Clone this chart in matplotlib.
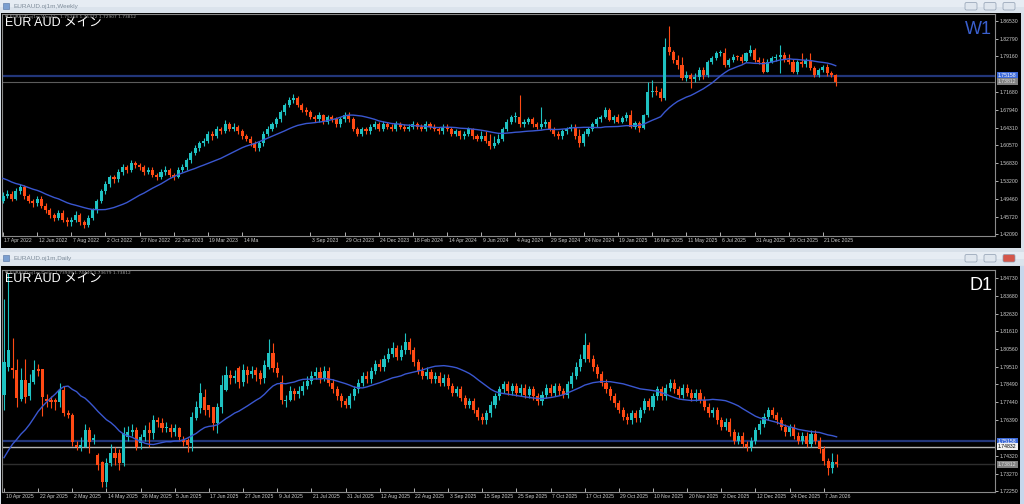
import numpy as np
import pandas as pd
import matplotlib
matplotlib.use("Agg")
import matplotlib.pyplot as plt
from matplotlib.patches import Rectangle, FancyBboxPatch
import matplotlib.transforms as mtransforms

W, H = 1024, 504
plt.rcParams['font.family'] = ['DejaVu Sans', 'Noto Sans CJK JP']

# ---------------- weekly data (price x 1e4), open = previous close ----------------
w_pre_close = [15700, 15800, 15750, 15650, 15600, 15550, 15500, 15450, 15500, 15550,
               15350, 15250, 15200, 15300, 15250, 15100, 15050, 14950, 14900]
w_first_open = 14900
w_close = [15000, 15050, 14950, 15100, 15200, 15000, 14900, 14850,
           14950, 14800, 14700, 14600, 14550, 14650, 14500, 14450,
           14500, 14600, 14450, 14400, 14550, 14700, 14900, 15100,
           15250, 15400, 15350, 15500, 15600, 15550, 15700, 15650,
           15600, 15500, 15550, 15450, 15400, 15500, 15550, 15450,
           15400, 15550, 15600, 15750, 15900, 16000, 16100, 16150,
           16300, 16250, 16400, 16350, 16500, 16400, 16450, 16350,
           16250, 16200, 16100, 16000, 16100, 16300, 16400, 16500,
           16600, 16750, 16900, 17000, 17050, 16900, 16800, 16750,
           16650, 16600, 16700, 16550, 16650, 16600, 16500, 16600,
           16700, 16600, 16400, 16300, 16400, 16350, 16450, 16500,
           16400, 16500, 16450, 16400, 16500, 16450, 16400, 16450,
           16500, 16450, 16400, 16500, 16450, 16400, 16350, 16450,
           16400, 16300, 16350, 16250, 16300, 16400, 16250, 16200,
           16250, 16150, 16050, 16100, 16200, 16400, 16550, 16650,
           16650, 16500, 16550, 16600, 16500, 16450, 16500, 16550,
           16400, 16300, 16250, 16350, 16400, 16450, 16250, 16100,
           16300, 16400, 16500, 16600, 16650, 16797, 16589, 16659,
           16554, 16624, 16693, 16450, 16519, 16415, 16693, 17180,
           17200, 17170, 17041, 18118, 18014, 17840, 17736, 17470,
           17530, 17440, 17492, 17632, 17527, 17805, 17875, 17979,
           17990, 17736, 17840, 17910, 17896, 17826, 17979, 18049,
           17840, 17800, 17597, 17805, 17875, 17910, 17944, 17840,
           17805, 17597, 17805, 17757, 17840, 17666, 17527, 17632,
           17693, 17560, 17527, 17381]
w_high = [15080, 15120, 15100, 15160, 15260, 15230, 15050, 14950,
          15000, 15000, 14850, 14750, 14650, 14700, 14700, 14560,
          14560, 14680, 14640, 14500, 14600, 14750, 14950, 15150,
          15320, 15450, 15450, 15560, 15660, 15650, 15760, 15740,
          15700, 15650, 15600, 15600, 15480, 15560, 15620, 15580,
          15480, 15600, 15660, 15800, 15950, 16060, 16160, 16220,
          16360, 16350, 16460, 16450, 16580, 16550, 16520, 16480,
          16400, 16300, 16250, 16150, 16150, 16350, 16460, 16550,
          16650, 16800, 16950, 17060, 17120, 17080, 16950, 16850,
          16800, 16700, 16760, 16720, 16700, 16700, 16650, 16650,
          16760, 16750, 16650, 16450, 16450, 16450, 16500, 16560,
          16550, 16560, 16550, 16500, 16560, 16550, 16500, 16500,
          16560, 16550, 16500, 16560, 16550, 16500, 16450, 16500,
          16500, 16450, 16400, 16380, 16350, 16450, 16420, 16300,
          16350, 16350, 16300, 16250, 16300, 16450, 16600, 16700,
          16750, 17100, 16600, 16650, 16650, 16550, 16850, 16600,
          16600, 16450, 16350, 16400, 16450, 16500, 16500, 16400,
          16350, 16450, 16550, 16650, 16700, 16850, 16830, 16700,
          16720, 16680, 16760, 16797, 16560, 16560, 16720, 17388,
          17423, 17300, 17260, 18292, 18549, 18050, 17950, 17900,
          17600, 17560, 17560, 17700, 17700, 17840, 17930, 18020,
          18050, 18083, 17880, 17960, 17950, 17960, 18010, 18153,
          18100, 17900, 17880, 17850, 17920, 17960, 18153, 18000,
          17960, 17850, 17840, 17979, 17880, 17979, 17720, 17680,
          17740, 17760, 17600, 17537]
w_low = [14850, 14960, 14900, 14920, 15050, 14950, 14850, 14780,
         14800, 14750, 14650, 14550, 14480, 14500, 14450, 14380,
         14380, 14450, 14400, 14330, 14360, 14500, 14650, 14850,
         15050, 15200, 15280, 15300, 15450, 15480, 15500, 15580,
         15540, 15450, 15460, 15400, 15330, 15350, 15450, 15400,
         15330, 15380, 15500, 15550, 15700, 15850, 15950, 16050,
         16100, 16180, 16220, 16300, 16320, 16350, 16360, 16300,
         16200, 16150, 16050, 15950, 15950, 16050, 16250, 16350,
         16450, 16550, 16700, 16850, 16950, 16850, 16750, 16700,
         16600, 16550, 16550, 16500, 16500, 16550, 16450, 16450,
         16550, 16550, 16350, 16250, 16250, 16300, 16300, 16400,
         16350, 16350, 16400, 16350, 16350, 16400, 16350, 16350,
         16400, 16400, 16350, 16350, 16400, 16350, 16300, 16300,
         16350, 16250, 16250, 16200, 16200, 16250, 16200, 16150,
         16150, 16100, 15980, 16000, 16080, 16150, 16350, 16500,
         16550, 16450, 16450, 16500, 16450, 16400, 16400, 16450,
         16350, 16250, 16200, 16200, 16300, 16350, 16200, 16030,
         16050, 16250, 16350, 16450, 16550, 16620, 16560, 16520,
         16520, 16520, 16560, 16420, 16400, 16346, 16400, 16650,
         17075, 17100, 16980, 17000, 17950, 17780, 17650, 17420,
         17400, 17249, 17380, 17420, 17450, 17480, 17750, 17840,
         17930, 17700, 17700, 17800, 17840, 17780, 17790, 17930,
         17800, 17760, 17560, 17580, 17780, 17820, 17562, 17800,
         17760, 17560, 17540, 17700, 17700, 17640, 17480, 17480,
         17580, 17500, 17480, 17291]
w_open = [w_first_open] + w_close[:-1]

w_tick_pos = [0, 8, 16, 24, 32, 40, 48, 56, 72, 80, 88, 96, 104, 112, 120,
              128, 136, 144, 152, 160, 168, 176, 184, 192]
w_tick_lab = ['17 Apr 2022', '12 Jun 2022', '7 Aug 2022', '2 Oct 2022', '27 Nov 2022',
              '22 Jan 2023', '19 Mar 2023', '14 Ma', '3 Sep 2023', '29 Oct 2023',
              '24 Dec 2023', '18 Feb 2024', '14 Apr 2024', '9 Jun 2024', '4 Aug 2024',
              '29 Sep 2024', '24 Nov 2024', '19 Jan 2025', '16 Mar 2025', '11 May 2025',
              '6 Jul 2025', '31 Aug 2025', '26 Oct 2025', '21 Dec 2025']
w_price_ticks = [1.86530, 1.82790, 1.79160, 1.71680, 1.67940, 1.64310, 1.60570,
                 1.56830, 1.53200, 1.49460, 1.45720, 1.42090]

# ---------------- daily data (price x 1e4) ----------------
d_pre_close = [17220, 17180, 17200, 17250, 17280, 17220, 17190, 17160, 17190, 17230,
               17270, 17300, 17280, 17350, 17600, 17900, 17750, 18000, 17850]
d_open = [17787, 17951, 17946, 17934, 17764, 17875, 17782, 17864, 17940, 17940,
          17764, 17758, 17758, 17746, 17817, 17682, 17670, 17494, 17483, 17483,
          17582, 17524, 17436, 17395, 17278, 17389, 17448, 17448, 17389, 17541,
          17571, 17582, 17506, 17541, 17582, 17565, 17641, 17623, 17594, 17594,
          17571, 17594, 17524, 17524, 17506, 17653, 17711, 17776, 17729, 17717,
          17623, 17717, 17817, 17905, 17887, 17946, 17864, 17934, 17910, 17934,
          17916, 17887, 17951, 18034, 17946, 17864, 17752, 17758, 17811,
          17793, 17810, 17840, 17870, 17900, 17920, 17890, 17930, 17860, 17820,
          17780, 17750, 17730, 17780, 17820, 17860, 17900, 17880, 17930, 17970,
          17950, 18000, 18030, 18060, 18010, 18050, 18100, 18050, 17980, 17930,
          17900, 17920, 17880, 17900, 17860, 17890, 17840, 17800, 17820, 17770,
          17730, 17750, 17700, 17660, 17640, 17680, 17730, 17780, 17820, 17850,
          17810, 17840, 17800, 17830, 17790, 17820, 17780, 17750, 17790, 17830,
          17800, 17840, 17810, 17790, 17850, 17900, 17950, 18000, 18080, 18000,
          17950, 17910, 17860, 17820, 17780, 17740, 17700, 17660, 17640, 17680,
          17650, 17700, 17750, 17720, 17780, 17820, 17780, 17830, 17860, 17820,
          17790, 17830, 17800, 17770, 17800, 17760, 17720, 17680, 17700, 17640,
          17600, 17630, 17570, 17520, 17550, 17500, 17480, 17520, 17580, 17620,
          17660, 17700, 17670, 17640, 17600, 17570, 17600, 17550, 17520, 17550,
          17500, 17560, 17520, 17470, 17400, 17360, 17394]
d_close = [17981, 18051, 17934, 17770, 17875, 17776, 17858, 17934, 17928, 17776,
           17752, 17746, 17746, 17817, 17682, 17670, 17512, 17483, 17494, 17582,
           17512, 17535, 17377, 17278, 17389, 17448, 17418, 17389, 17565, 17571,
           17582, 17483, 17541, 17582, 17565, 17641, 17629, 17594, 17600, 17571,
           17594, 17541, 17512, 17494, 17658, 17717, 17799, 17700, 17700, 17623,
           17717, 17846, 17905, 17887, 17899, 17864, 17934, 17905, 17928, 17905,
           17881, 17963, 18034, 17946, 17916, 17758, 17758, 17811, 17793,
           17810, 17840, 17870, 17900, 17920, 17890, 17930, 17860, 17820, 17780,
           17750, 17730, 17780, 17820, 17860, 17900, 17880, 17930, 17970, 17950,
           18000, 18030, 18060, 18010, 18050, 18100, 18050, 17980, 17930, 17900,
           17920, 17880, 17900, 17860, 17890, 17840, 17800, 17820, 17770, 17730,
           17750, 17700, 17660, 17640, 17680, 17730, 17780, 17820, 17850, 17810,
           17840, 17800, 17830, 17790, 17820, 17780, 17750, 17790, 17830, 17800,
           17840, 17810, 17790, 17850, 17900, 17950, 18000, 18080, 18000, 17950,
           17910, 17860, 17820, 17780, 17740, 17700, 17660, 17640, 17680, 17650,
           17700, 17750, 17720, 17780, 17820, 17780, 17830, 17860, 17820, 17790,
           17830, 17800, 17770, 17800, 17760, 17720, 17680, 17700, 17640, 17600,
           17630, 17570, 17520, 17550, 17500, 17480, 17520, 17580, 17620, 17660,
           17700, 17670, 17640, 17600, 17570, 17600, 17550, 17520, 17550, 17500,
           17560, 17520, 17470, 17400, 17360, 17395, 17381]
d_high = [18350, 18500, 18120, 18000, 17946, 18000, 17910, 17992, 17970, 17940,
          17795, 17780, 17770, 17860, 17840, 17700, 17680, 17515, 17540, 17620,
          17600, 17560, 17450, 17400, 17420, 17500, 17480, 17470, 17600, 17605,
          17620, 17600, 17560, 17610, 17630, 17670, 17660, 17650, 17630, 17620,
          17620, 17600, 17550, 17535, 17690, 17750, 17860, 17825, 17730, 17710,
          17740, 17905, 17960, 17935, 17935, 17960, 17970, 17960, 17955, 17950,
          17935, 17990, 18115, 18092, 17980, 17905, 17790, 17840, 17830,
          17840, 17870, 17900, 17930, 17950, 17950, 17960, 17950, 17880, 17840,
          17800, 17770, 17800, 17840, 17880, 17920, 17930, 17950, 17990, 18000,
          18020, 18060, 18100, 18080, 18080, 18150, 18120, 18070, 18000, 17950,
          17950, 17940, 17920, 17920, 17910, 17910, 17860, 17840, 17840, 17790,
          17770, 17770, 17720, 17680, 17700, 17750, 17800, 17840, 17870, 17870,
          17860, 17860, 17850, 17850, 17840, 17840, 17800, 17810, 17850, 17850,
          17860, 17860, 17830, 17870, 17920, 17980, 18030, 18150, 18100, 18020,
          17970, 17930, 17880, 17840, 17800, 17760, 17720, 17680, 17700, 17700,
          17720, 17770, 17770, 17800, 17840, 17840, 17850, 17880, 17880, 17840,
          17850, 17850, 17820, 17820, 17820, 17780, 17740, 17720, 17720, 17660,
          17650, 17650, 17590, 17570, 17570, 17520, 17540, 17600, 17640, 17680,
          17720, 17720, 17690, 17660, 17620, 17620, 17620, 17570, 17570, 17570,
          17580, 17580, 17540, 17490, 17420, 17450, 17444]
d_low = [17700, 17930, 17890, 17720, 17750, 17740, 17760, 17850, 17900, 17665,
         17720, 17710, 17700, 17720, 17665, 17650, 17490, 17465, 17460, 17480,
         17448, 17500, 17350, 17248, 17248, 17370, 17380, 17350, 17370, 17520,
         17550, 17465, 17470, 17520, 17480, 17530, 17600, 17570, 17570, 17540,
         17550, 17520, 17490, 17455, 17460, 17640, 17680, 17670, 17660, 17580,
         17565, 17680, 17810, 17850, 17860, 17830, 17840, 17860, 17890, 17870,
         17850, 17855, 17940, 17920, 17895, 17735, 17720, 17755, 17760,
         17770, 17790, 17820, 17850, 17880, 17860, 17870, 17840, 17800, 17760,
         17720, 17710, 17710, 17760, 17800, 17840, 17860, 17860, 17910, 17930,
         17930, 17980, 18010, 17990, 17990, 18030, 18030, 17960, 17910, 17880,
         17880, 17860, 17860, 17840, 17840, 17820, 17780, 17780, 17750, 17710,
         17710, 17680, 17640, 17620, 17620, 17660, 17710, 17760, 17800, 17790,
         17790, 17780, 17780, 17770, 17770, 17760, 17730, 17730, 17770, 17780,
         17780, 17790, 17770, 17770, 17830, 17880, 17930, 17980, 17980, 17930,
         17890, 17840, 17800, 17760, 17720, 17680, 17640, 17620, 17620, 17630,
         17630, 17680, 17700, 17700, 17760, 17760, 17760, 17810, 17800, 17770,
         17770, 17780, 17750, 17750, 17740, 17700, 17660, 17660, 17620, 17580,
         17580, 17550, 17500, 17500, 17480, 17460, 17460, 17500, 17560, 17600,
         17640, 17650, 17620, 17580, 17550, 17550, 17530, 17500, 17500, 17480,
         17480, 17500, 17450, 17380, 17320, 17330, 17368]

d_tick_lab = ['10 Apr 2025', '22 Apr 2025', '2 May 2025', '14 May 2025', '26 May 2025',
              '5 Jun 2025', '17 Jun 2025', '27 Jun 2025', '9 Jul 2025', '21 Jul 2025',
              '31 Jul 2025', '12 Aug 2025', '22 Aug 2025', '3 Sep 2025', '15 Sep 2025',
              '25 Sep 2025', '7 Oct 2025', '17 Oct 2025', '29 Oct 2025', '10 Nov 2025',
              '20 Nov 2025', '2 Dec 2025', '12 Dec 2025', '24 Dec 2025', '7 Jan 2026']
d_tick_pos = [8 * k for k in range(len(d_tick_lab))]
d_price_ticks = [1.84730, 1.83680, 1.82630, 1.81610, 1.80560, 1.79510, 1.78490,
                 1.77440, 1.76390, 1.74320, 1.73270, 1.72250]

blue_level = 1.75158
bid_level = 1.73812
ask_level = 1.74832

BULL = '#1fc2c2'
BEAR = '#ff4a14'
MA_COL = '#3a57d0'
FRAME = '#d8e0e9'
TICK_FONT = ['Liberation Sans', 'DejaVu Sans']


def sc(v):
    return np.asarray(v, dtype=float) / 10000.0


def draw_candles(ax, o, h, l, c, px_per_unit):
    o, h, l, c = sc(o), sc(h), sc(l), sc(c)
    x = np.arange(len(c))
    up = c >= o
    cols = np.where(up, BULL, BEAR)
    ax.vlines(x, l, h, colors=cols, lw=0.8, zorder=3)
    bh = np.maximum(np.abs(c - o), 1.0 / px_per_unit)
    ax.bar(x, bh, bottom=np.minimum(o, c), width=0.72, color=cols,
           linewidth=0, zorder=4)


def add_px_axes(fig, x0, y0, x1, y1):
    return fig.add_axes([x0 / W, 1 - y1 / H, (x1 - x0) / W, (y1 - y0) / H])


def style_chart(ax, xlim, ylim, xticks, xlabels, yticks):
    ax.set_facecolor('black')
    ax.set_xlim(*xlim)
    ax.set_ylim(*ylim)
    for s in ax.spines.values():
        s.set_color('#8a8a8a')
        s.set_linewidth(0.8)
    ax.yaxis.tick_right()
    ax.set_yticks(yticks)
    ax.set_yticklabels(['%.5f' % v for v in yticks], family=TICK_FONT)
    ax.set_xticks(xticks)
    ax.set_xticklabels(xlabels, ha='left', family=TICK_FONT)
    ax.tick_params(axis='y', colors='#cfcfcf', labelsize=3.7, length=2, width=0.6, pad=1.5)
    ax.tick_params(axis='x', colors='#cfcfcf', labelsize=3.7, length=3, width=0.6,
                   pad=1.2, direction='in')
    offset = mtransforms.ScaledTranslation(1.5 / 100, 0, ax.figure.dpi_scale_trans)
    for t in ax.get_xticklabels():
        t.set_transform(t.get_transform() + offset)


def price_box(ax, y, text, fc, tc):
    tr = mtransforms.blended_transform_factory(ax.transAxes, ax.transData)
    ax.text(1.003, y, text, transform=tr, fontsize=3.7, color=tc, va='center', ha='left',
            family=TICK_FONT,
            bbox=dict(boxstyle='square,pad=0.2', fc=fc, ec='none'), zorder=10, clip_on=False)


fig = plt.figure(figsize=(W / 100, H / 100), dpi=100)
fig.patch.set_facecolor(FRAME)

# window chrome in pixel coords
bg = fig.add_axes([0, 0, 1, 1])
bg.set_xlim(0, W)
bg.set_ylim(H, 0)
bg.axis('off')
for (ty, name) in [(0, 'EURAUD.oj1m,Weekly'), (252, 'EURAUD.oj1m,Daily')]:
    bg.add_patch(Rectangle((0, ty), W, 13, fc='#e6ecf3', ec='none'))
    bg.add_patch(Rectangle((0, ty + 7), W, 6, fc='#dbe3ec', ec='none'))
    bg.add_patch(Rectangle((3, ty + 3), 6, 6, fc='#7b9fd0', ec='#4f6f9f', lw=0.4))
    bg.text(13, ty + 6.5, name, fontsize=4.6, color='#7d8b99', va='center', ha='left',
            family=TICK_FONT)
    for k, bx in enumerate([965, 984, 1003]):
        fc = '#d5564a' if (ty > 0 and k == 2) else '#dfe6ee'
        bg.add_patch(FancyBboxPatch((bx, ty + 2.5), 12, 7.5, boxstyle='round,pad=0,rounding_size=1.5',
                                    fc=fc, ec='#8e9db0', lw=0.5))
bg.add_patch(Rectangle((1, 13), 1020, 235, fc='black', ec='none'))
bg.add_patch(Rectangle((1, 266), 1019, 240, fc='black', ec='none'))
bg.add_patch(Rectangle((1020, 266), 4, 240, fc='#c7d7ec', ec='none'))
bg.plot([846 - 2, 846 + 2, 846, 846 - 2], [15, 15, 18, 15], color='#8a8a8a', lw=0.6)
bg.plot([846 - 2, 846 + 2, 846, 846 - 2], [271, 271, 274, 271], color='#8a8a8a', lw=0.6)

# ---------------- weekly chart ----------------
axw = add_px_axes(fig, 2, 14, 995, 236)
w_px = 1.0 / 0.002086
style_chart(axw, (-0.23, 232.3), (1.4168, 1.8799), w_tick_pos, w_tick_lab, w_price_ticks)
axw.axhline(blue_level, color='#22367a', lw=1.6, zorder=1)
axw.axhline(bid_level, color='#5c5c5c', lw=0.8, zorder=1)
draw_candles(axw, w_open, w_high, w_low, w_close, w_px)
w_all = pd.Series(sc(w_pre_close + w_close))
w_ma = w_all.rolling(20).mean().values[len(w_pre_close):]
axw.plot(np.arange(len(w_close)), w_ma, color=MA_COL, lw=1.0, zorder=5)
price_box(axw, blue_level, '1.75158', '#3d6ad8', 'white')
price_box(axw, bid_level, '1.73812', '#808080', '#e0e0e0')
axw.text(0.003, 0.985, 'EUR AUD メイン', transform=axw.transAxes, fontsize=9, color='white',
         va='top', ha='left', family=['Liberation Sans', 'Noto Sans CJK JP'], zorder=11)
axw.text(0.997, 0.97, 'W1', transform=axw.transAxes, fontsize=13, color='#3a5fcd',
         va='top', ha='right', family=['Liberation Sans', 'DejaVu Sans'], zorder=11)
axw.text(0.003, 0.995, '▼ EURAUD.oj1m,Weekly  1.75268 1.75372 1.72907 1.73812',
         transform=axw.transAxes, fontsize=3.2, color='#9a9a9a', va='top', ha='left', zorder=11)

# ---------------- daily chart ----------------
axd = add_px_axes(fig, 2, 270, 995, 492)
d_px = 1.0 / 0.000586
style_chart(axd, (-0.47, 232.1), (1.7219, 1.8520), d_tick_pos, d_tick_lab, d_price_ticks)
axd.axhline(blue_level, color='#22367a', lw=1.6, zorder=1)
axd.axhline(ask_level, color='#b4b4b4', lw=1.0, zorder=1)
axd.axhline(bid_level, color='#2e2e2e', lw=1.0, zorder=1)
draw_candles(axd, d_open, d_high, d_low, d_close, d_px)
d_all = pd.Series(sc(d_pre_close + d_close))
d_ma = d_all.rolling(20).mean().values[len(d_pre_close):]
axd.plot(np.arange(len(d_close)), d_ma, color=MA_COL, lw=1.0, zorder=5)
price_box(axd, blue_level, '1.75158', '#3d6ad8', 'white')
price_box(axd, ask_level, '1.74832', '#f0f0f0', 'black')
price_box(axd, bid_level, '1.73812', '#808080', '#e0e0e0')
axd.text(0.003, 0.985, 'EUR AUD メイン', transform=axd.transAxes, fontsize=9, color='white',
         va='top', ha='left', family=['Liberation Sans', 'Noto Sans CJK JP'], zorder=11)
axd.text(0.997, 0.97, 'D1', transform=axd.transAxes, fontsize=13, color='white',
         va='top', ha='right', family=['Liberation Sans', 'DejaVu Sans'], zorder=11)
axd.text(0.003, 0.995, '▼ EURAUD.oj1m,Daily  1.73939 1.74440 1.73679 1.73812',
         transform=axd.transAxes, fontsize=3.2, color='#9a9a9a', va='top', ha='left', zorder=11)

fig.savefig('out.png', dpi=100, facecolor=fig.get_facecolor())
